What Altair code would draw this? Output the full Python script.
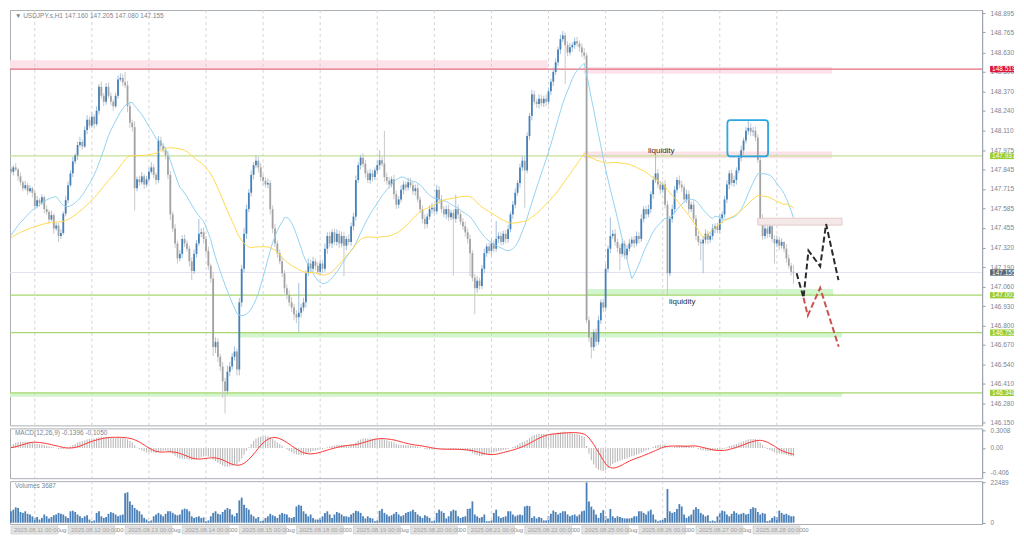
import altair as alt
import pandas as pd

# ---------------- data (USDJPY.s, H1) ----------------
first_open = 147.850
closes = [
    147.830,147.860,147.845,147.800,147.760,147.720,147.740,147.700,147.720,147.690,147.600,147.640,147.620,147.660,147.580,147.560,147.510,147.540,147.450,147.470,147.400,147.420,147.550,147.640,
    147.740,147.820,147.900,147.940,148.010,148.030,148.000,148.110,148.180,148.140,148.200,148.150,148.240,148.400,148.340,148.300,148.400,148.340,148.300,148.270,148.340,148.450,148.460,148.430,
    148.410,148.270,148.160,148.130,147.720,147.780,147.760,147.800,147.745,147.780,147.830,147.860,147.810,147.775,148.040,148.005,147.975,147.940,147.810,147.545,147.450,147.350,147.250,147.280,
    147.380,147.350,147.315,147.230,147.165,147.280,147.350,147.415,147.425,147.380,147.300,147.200,147.115,146.655,146.690,146.590,146.525,146.425,146.360,146.490,146.525,146.590,146.625,146.505,
    146.955,147.180,147.415,147.580,147.690,147.810,147.875,147.905,147.860,147.795,147.770,147.745,147.755,147.580,147.450,147.350,147.285,147.230,147.150,147.050,147.005,146.955,146.920,146.875,
    146.855,146.885,146.920,146.955,147.150,147.215,147.180,147.230,147.200,147.160,147.215,147.180,147.315,147.400,147.350,147.425,147.360,147.415,147.350,147.400,147.335,147.380,147.360,147.465,
    147.530,147.775,147.875,147.925,147.885,147.820,147.775,147.820,147.795,147.840,147.875,147.908,147.885,147.795,147.770,147.745,147.780,147.680,147.610,147.645,147.710,147.745,147.725,147.760,
    147.740,147.700,147.720,147.645,147.580,147.515,147.480,147.530,147.580,147.590,147.565,147.710,147.645,147.580,147.545,147.580,147.525,147.555,147.515,147.580,147.545,147.495,147.465,147.425,
    147.380,147.285,147.120,147.050,147.100,147.065,147.180,147.285,147.330,147.300,147.350,147.315,147.380,147.400,147.360,147.415,147.380,147.445,147.545,147.610,147.690,147.755,147.860,147.905,
    147.840,148.070,148.205,148.350,148.300,148.285,148.320,148.290,148.320,148.300,148.370,148.435,148.500,148.565,148.650,148.720,148.745,148.680,148.630,148.665,148.680,148.705,148.690,148.665,
    148.630,148.610,146.835,146.720,146.655,146.755,146.690,146.835,146.955,146.920,147.180,147.315,147.400,147.415,147.360,147.320,147.280,147.350,147.270,147.315,147.350,147.375,147.350,147.400,
    147.380,147.515,147.580,147.545,147.580,147.680,147.775,147.820,147.745,147.710,147.745,147.610,147.150,147.515,147.580,147.710,147.775,147.745,147.725,147.645,147.680,147.580,147.610,147.515,
    147.400,147.360,147.350,147.375,147.415,147.375,147.400,147.450,147.465,147.440,147.515,147.545,147.645,147.745,147.820,147.755,147.775,147.840,147.925,147.975,148.040,148.105,148.125,148.100,
    148.105,148.060,147.910,147.515,147.400,147.450,147.415,147.465,147.380,147.350,147.375,147.335,147.360,147.315,147.250,147.200,147.160,147.155,
]
# wick lengths beyond the body, in thousandths of a yen
upper_wick = [
    20,15,30,10,25,12,30,18,22,10,15,28,12,20,10,25,15,30,12,20,18,25,15,30,
    25,20,30,15,22,35,18,25,30,20,28,15,30,20,35,18,25,30,22,15,20,25,30,25,
    70,30,25,20,40,18,25,30,15,22,28,35,20,15,30,25,18,22,30,25,20,30,18,25,
    25,30,20,18,25,30,22,100,25,30,20,28,15,40,30,25,20,30,25,40,30,25,35,20,
    30,25,40,30,25,30,20,35,25,30,20,25,30,20,25,30,20,25,30,20,25,30,35,25,
    30,200,25,30,20,35,25,30,20,25,30,22,35,25,30,20,25,30,22,30,25,20,30,25,
    25,30,20,20,30,25,20,30,25,20,30,67,25,220,30,25,20,30,25,20,30,25,20,30,
    30,20,25,30,20,25,30,20,25,30,20,33,25,30,20,25,30,20,25,97,30,20,25,30,
    25,30,20,25,30,20,25,30,20,25,30,20,120,25,30,20,25,30,20,25,30,20,25,30,
    30,25,20,30,25,20,30,25,20,30,25,20,30,25,20,30,30,20,25,30,20,25,30,20,
    25,30,20,25,30,20,25,30,20,25,30,20,125,25,30,20,25,30,20,25,30,20,25,30,
    25,30,20,25,30,20,25,120,30,25,20,30,25,20,30,25,20,30,25,20,30,25,20,30,
    25,30,20,25,30,20,25,30,20,25,30,20,25,30,20,25,30,20,25,30,20,25,45,30,
    25,30,20,25,30,63,25,30,20,25,30,20,25,5,30,25,20,45,
]
lower_wick = [
    15,25,10,30,20,18,12,25,10,30,20,15,25,12,30,18,25,10,35,15,40,20,12,18,
    20,12,25,18,30,15,22,10,28,20,15,30,12,25,18,30,20,15,25,30,12,20,15,25,
    20,40,35,30,150,20,25,15,30,18,22,15,25,30,20,28,15,25,30,40,25,30,35,20,
    30,25,20,35,60,20,25,18,22,30,25,28,30,60,40,35,30,110,150,25,30,20,25,40,
    40,30,25,35,20,25,30,20,35,25,30,20,25,35,30,25,30,20,25,35,30,25,30,40,
    40,100,30,25,35,20,30,25,30,20,25,30,20,35,25,30,20,25,30,25,205,30,20,25,
    30,25,20,30,25,30,20,25,30,20,25,30,20,30,25,30,20,35,30,25,20,30,25,20,
    20,25,30,20,25,30,33,25,20,30,25,20,30,25,20,30,25,20,380,25,30,20,25,30,
    30,155,25,175,30,25,20,30,25,20,30,25,20,30,25,20,30,25,20,30,25,20,30,25,
    250,20,25,30,20,25,30,20,25,30,20,25,30,20,25,30,20,260,25,20,30,25,20,30,
    30,25,20,30,77,25,30,20,25,30,20,25,30,20,25,30,110,20,25,30,20,25,30,20,
    30,20,25,30,20,25,30,20,25,30,20,25,150,20,25,30,20,25,30,20,25,30,20,25,
    30,25,114,200,25,30,20,25,30,20,25,30,20,25,30,20,25,30,20,25,30,20,25,30,
    30,25,20,30,25,20,30,25,20,134,25,30,20,25,30,20,25,75,
]
volumes = [
    6400,7300,8600,8200,6000,5500,6400,5000,4600,3600,2700,3200,1800,2700,4600,3600,2400,3200,4200,4600,5500,5000,4600,3600,
    2700,6400,6700,6000,4600,3600,2700,3600,4200,1800,900,1300,5500,6400,3600,2700,3200,5000,5900,5500,4600,3600,4200,4600,
    16500,17000,11900,10000,8200,7300,6400,4600,2700,1800,900,1300,3600,4600,5500,4600,3600,5000,6400,6400,5500,4600,4200,4600,
    7300,7900,7600,6400,3600,2700,3200,3600,2700,3000,900,1300,3600,5500,6400,5000,4600,6000,7300,8200,7600,4600,3600,5500,
    12500,14000,10000,8200,7300,4600,3600,2400,3200,900,1300,2700,3600,5000,4200,3600,2700,4600,5500,5000,4600,3000,2700,3200,
    9100,10000,9500,6400,5000,3600,4600,2700,1800,1800,2700,3600,5500,6400,4600,2700,4600,6000,5500,4600,3600,3600,3200,4600,
    5500,6700,6400,5500,3600,2400,3600,2700,2400,900,1300,6700,7700,5500,4600,3600,4200,5000,6000,4600,3600,4200,5500,6000,
    6400,7300,6000,4600,3600,2700,4200,3600,2700,900,1300,5500,7300,6400,5500,2400,3600,6400,7300,6800,3600,2700,3200,3600,
    7700,8000,11900,4600,3600,2700,3200,4600,900,900,1300,5500,7300,3600,2700,3200,3600,6400,6400,4600,3600,4200,4600,4200,
    9100,9500,9300,2700,3600,2400,3200,2700,1300,1300,3600,5000,6800,6000,4600,5500,6400,6400,4600,3600,4200,4600,3600,4600,
    6400,6800,22489,11900,9000,7300,4600,2700,5500,7000,3600,2400,7700,3600,2700,3600,3200,2700,2400,2400,2400,2700,3600,3600,
    6400,6400,5500,4600,6400,7300,4600,1800,900,1300,1800,2700,18800,6400,5500,6000,7700,10400,9100,4600,2700,3600,4600,7300,
    8600,7700,5500,4600,3600,4200,900,1300,900,3600,5500,6800,6400,4600,3600,5000,6400,5500,4600,5000,5500,4600,5000,7700,
    8600,8200,6000,4600,5500,5000,900,1300,2700,3600,3200,6800,5500,4600,5000,4200,3600,3687,
]
prior_level = 147.38  # level the averages start from at the left edge

price_ticks = [148.895,148.765,148.630,148.500,148.370,148.240,148.110,147.975,147.845,147.715,147.585,
               147.455,147.320,147.190,147.060,146.930,146.800,146.670,146.540,146.410,146.280,146.150]
level_prices = [148.519, 147.937, 147.155, 147.003, 146.752, 146.348]
macd_ticks = [0.3008, 0.0, -0.406]
volume_ticks = [22489, 0]
date_labels = ["2025.08.11 00:00","2025.08.12 00:00","2025.08.13 00:00","2025.08.14 00:00","2025.08.15 00:00",
               "2025.08.18 00:00","2025.08.19 00:00","2025.08.20 00:00","2025.08.21 00:00","2025.08.22 00:00",
               "2025.08.25 00:00","2025.08.26 00:00","2025.08.27 00:00","2025.08.28 00:00"]
date_fragments = ["ug","00"] * 7
symbol = "USDJPY.s,H1"
macd_header = "MACD(12,26,9) -0.1396 -0.1050"

# zones: (start bar, end bar, low price, high price)
zone_x0 = [-0.41, 240.7, 240.7, 242.4, 95.4, -0.41]
zone_x1 = [225.7, 345.2, 345.2, 345.6, 349.4, 349.4]
zone_p0 = [148.519, 148.487, 147.921, 147.003, 146.720, 146.322]
zone_p1 = [148.579, 148.533, 147.967, 147.045, 146.752, 146.348]
zone_kind = ["pink", "pink", "pink", "green", "green", "green"]
# scenario paths (bar index, price)
black_i = [330.3, 333.2, 335.3, 340.2, 342.7, 347.9]
black_p = [147.150, 146.986, 147.302, 147.196, 147.480, 147.104]
red_i = [333.2, 335.0, 340.2, 348.0]
red_p = [146.986, 146.867, 147.052, 146.657]
liq_i = [273.4, 282.2]
liq_p = [147.973, 146.954]
top_box = [301.2, 318.3, 147.934, 148.177]
grey_box = [314.0, 349.4, 147.473, 147.519]

# ---------------- table ----------------
n = len(closes)
opens = [first_open] + closes[:-1]
df = pd.DataFrame({"i": list(range(n)), "o": opens, "c": closes,
                   "uw": upper_wick[:n], "lw": lower_wick[:n], "v": volumes[:n]})
df["h"] = df[["o", "c"]].max(axis=1) + df["uw"] / 1000.0
df["l"] = df[["o", "c"]].min(axis=1) - df["lw"] / 1000.0
pad = 60
s = pd.Series([prior_level] * pad + closes)
df["sma20"] = s.rolling(20).mean().iloc[pad:].values
df["sma50"] = s.rolling(50).mean().iloc[pad:].values
macd = s.ewm(span=12, adjust=False).mean() - s.ewm(span=26, adjust=False).mean()
df["macd"] = macd.iloc[pad:].values
df["sig"] = macd.rolling(9).mean().iloc[pad:].values

last = df.iloc[-1]
header = f"\u25bc {symbol} {last.o:.3f} {last.h:.3f} {last.l:.3f} {last.c:.3f}"
vol_header = f"Volumes {int(last.v)}"

# ---------------- layout / style ----------------
W, H1, H2, H3 = 976, 417, 50, 43
FONT = "Liberation Sans"
FS = 6.5
xs = alt.Scale(domain=[-0.41, 408.3], nice=False, zero=False, padding=0)
ys = alt.Scale(domain=[146.13, 148.915], nice=False, zero=False, padding=0)
ms = alt.Scale(domain=[-0.51, 0.33], nice=False, zero=False, padding=0)
vs = alt.Scale(domain=[-700, 23200], nice=False, zero=False, padding=0)
X = lambda f: alt.X(f, type="quantitative", scale=xs, axis=None)
one = pd.DataFrame({"k": [0]})


def right_axis(values, **kw):
    return alt.Axis(orient="right", values=values, labelOverlap=False, labelFontSize=FS,
                    labelColor="#7b8591", tickColor="#9aa0a8", tickSize=3, domainColor="#9aa0a8",
                    labelPadding=5, labelFont=FONT, grid=False, **kw)


ax_price = right_axis(price_ticks, format=".3f")
YP = lambda f: alt.Y(f, type="quantitative", scale=ys, axis=ax_price, title=None)

grid_df = pd.DataFrame({"g": [10 + 24 * k for k in range(14)]})
grid = alt.Chart(grid_df).mark_rule(strokeDash=[3, 3], color="#d4d4d4", strokeWidth=1).encode(x=X("g"))

zone_fill = {"pink": "#fce3e9", "green": "#d3f5cd"}
zdf = pd.DataFrame({"x0": zone_x0, "x1": zone_x1, "p0": zone_p0, "p1": zone_p1,
                    "fill": [zone_fill[k] for k in zone_kind]})
zones = alt.Chart(zdf).mark_rect().encode(
    x=X("x0"), x2="x1", y=YP("p0"), y2="p1", color=alt.Color("fill:N", scale=None))

level_style = ["#e36c80", "#c6df97", "#e2e2f0", "#a9d66d", "#a9d66d", "#a9d66d"]
box_style = ["#dc143c", "#9acd32", "#5b6571", "#9acd32", "#9acd32", "#9acd32"]
ldf = pd.DataFrame({"p": level_prices, "col": level_style, "bcol": box_style,
                    "txt": [f"{p:.3f}" for p in level_prices]})
half = 3.2 * (ys.domain[1] - ys.domain[0]) / H1
ldf["hi"] = ldf["p"] + half
ldf["lo"] = ldf["p"] - half
levels = alt.Chart(ldf).mark_rule(strokeWidth=1.2).encode(
    y=YP("p"), color=alt.Color("col:N", scale=None))

bull = "datum.c >= datum.o"
base = alt.Chart(df)
wicks = base.mark_rule(strokeWidth=1).encode(
    x=X("i"), y=YP("l"), y2="h",
    color=alt.condition(bull, alt.value("#a3c0dc"), alt.value("#c9c9c9")))
bodies = base.mark_bar(size=1.8).encode(
    x=X("i"), y=YP("o"), y2="c",
    color=alt.condition(bull, alt.value("#4680b6"), alt.value("#a2a2a2")))
ma_fast = base.mark_line(color="#92d2f2", strokeWidth=1).encode(x=X("i"), y=YP("sma20"))
ma_slow = base.mark_line(color="#ffd94d", strokeWidth=1).encode(x=X("i"), y=YP("sma50"))

bdf = pd.DataFrame({"x0": [top_box[0]], "x1": [top_box[1]], "p0": [top_box[2]], "p1": [top_box[3]]})
blue_box = alt.Chart(bdf).mark_rect(fill="transparent", stroke="#2aa7e2", strokeWidth=1.8, cornerRadius=3).encode(
    x=X("x0"), x2="x1", y=YP("p0"), y2="p1")
gdf = pd.DataFrame({"x0": [grey_box[0]], "x1": [grey_box[1]], "p0": [grey_box[2]], "p1": [grey_box[3]]})
grey_rect = alt.Chart(gdf).mark_rect(fill="#f5e8e8", stroke="#e4caca", strokeWidth=1).encode(
    x=X("x0"), x2="x1", y=YP("p0"), y2="p1")

pb = pd.DataFrame({"i": black_i, "p": black_p, "k": range(len(black_i))})
pr = pd.DataFrame({"i": red_i, "p": red_p, "k": range(len(red_i))})
path_black = alt.Chart(pb).mark_line(color="#2a2a2a", strokeWidth=2, strokeDash=[6, 3]).encode(
    x=X("i"), y=YP("p"), order="k:Q")
path_red = alt.Chart(pr).mark_line(color="#c9524f", strokeWidth=2, strokeDash=[6, 3]).encode(
    x=X("i"), y=YP("p"), order="k:Q")

qdf = pd.DataFrame({"i": liq_i, "p": liq_p, "t": ["liquidity", "liquidity"]})
liq = alt.Chart(qdf).mark_text(font=FONT, fontSize=8, color="#2b2b2b", align="center", baseline="middle").encode(
    x=X("i"), y=YP("p"), text="t:N")

head = alt.Chart(one).mark_text(font=FONT, fontSize=FS, color="#7b8591", align="left", baseline="middle").encode(
    x=alt.value(5), y=alt.value(6), text=alt.value(header))

lab_box = alt.Chart(ldf).mark_rect().encode(
    x=alt.value(W + 8), x2=alt.value(W + 32), y=YP("hi"), y2="lo",
    color=alt.Color("bcol:N", scale=None))
lab_txt = alt.Chart(ldf).mark_text(font=FONT, fontSize=FS, color="white", align="left", baseline="middle").encode(
    x=alt.value(W + 10), y=YP("p"), text="txt:N")

main = alt.layer(zones, grid, levels, wicks, bodies, ma_fast, ma_slow, grey_rect, blue_box,
                 path_black, path_red, liq, head, lab_box, lab_txt).properties(width=W, height=H1)

# ---------------- MACD panel ----------------
ax_macd = right_axis(macd_ticks,
                     labelExpr="datum.value == 0 ? '0.00' : (datum.value > 0 ? '0.3008' : '-0.406')")
macd_bars = base.mark_bar(size=1.1, color="#b9b9b9").encode(
    x=X("i"), y=alt.Y("macd:Q", scale=ms, axis=ax_macd, title=None), y2=alt.datum(0))
macd_sig = base.mark_line(color="#ff3434", strokeWidth=1).encode(
    x=X("i"), y=alt.Y("sig:Q", scale=ms, axis=ax_macd, title=None))
macd_head = alt.Chart(one).mark_text(font=FONT, fontSize=FS, color="#7b8591", align="left", baseline="middle").encode(
    x=alt.value(5), y=alt.value(5), text=alt.value(macd_header))
macd_panel = alt.layer(macd_bars, grid, macd_sig, macd_head).properties(width=W, height=H2)

# ---------------- Volume panel ----------------
ax_vol = right_axis(volume_ticks, format="d")
vol_bars = base.mark_bar(size=1.8, color="#4a80b7").encode(
    x=X("i"), y=alt.Y("v:Q", scale=vs, axis=ax_vol, title=None), y2=alt.datum(0))
vol_head = alt.Chart(one).mark_text(font=FONT, fontSize=FS, color="#7b8591", align="left", baseline="middle").encode(
    x=alt.value(5), y=alt.value(5), text=alt.value(vol_header))
ddf = pd.DataFrame({"i": [24 * d for d in range(len(date_labels))], "t": date_labels, "f": date_fragments})
date_box = alt.Chart(ddf).mark_rect(fill="#e3e3e3", stroke="#cdcdcd", strokeWidth=0.7, x2Offset=47).encode(
    x=X("i"), x2="i", y=alt.value(H3 + 2), y2=alt.value(H3 + 10))
date_txt = alt.Chart(ddf).mark_text(font=FONT, fontSize=6, color="#a2a2a2", align="left", baseline="middle", dx=3).encode(
    x=X("i"), y=alt.value(H3 + 6), text="t:N")
date_frag = alt.Chart(ddf).mark_text(font=FONT, fontSize=6, color="#8a8a8a", align="left", baseline="middle", dx=49).encode(
    x=X("i"), y=alt.value(H3 + 6), text="f:N")
vol_panel = alt.layer(vol_bars, grid, vol_head, date_box, date_txt, date_frag).properties(width=W, height=H3)

chart = alt.vconcat(main, macd_panel, vol_panel, spacing=3).properties(padding=0, bounds="flush").configure_view(
    stroke="#a9adb4", strokeWidth=1).configure_concat(spacing=3)

chart.save("out.html", embed_options={"renderer": "svg", "actions": False})
